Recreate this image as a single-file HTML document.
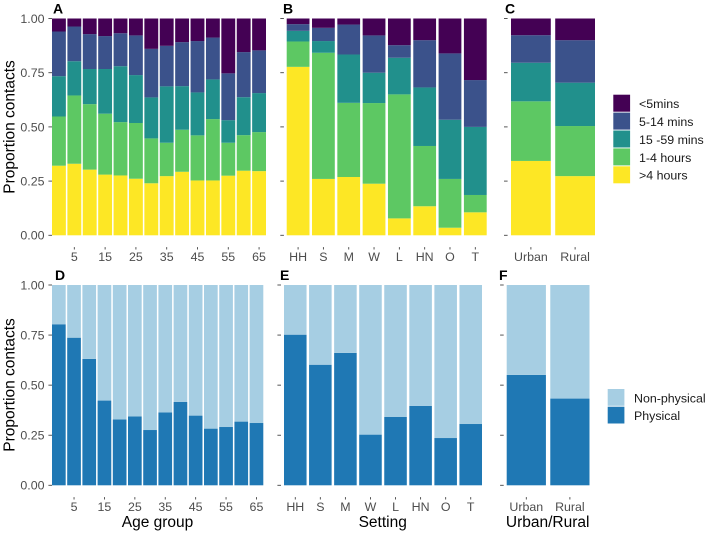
<!DOCTYPE html>
<html lang="en">
<head>
<meta charset="utf-8">
<title>Proportion of contacts by duration and physical contact</title>
<style>
html,body{margin:0;padding:0;background:#fff;width:708px;height:533px;overflow:hidden}
svg{display:block}
text{font-family:"Liberation Sans",sans-serif}
</style>
</head>
<body>
<svg id="chart" xmlns="http://www.w3.org/2000/svg" width="708" height="533" viewBox="0 0 708 533">
<rect x="0" y="0" width="708" height="533" fill="#ffffff"/>
</svg>
<script>
// ---- categories ----
const ageCategories = ['0','5','10','15','20','25','30','35','40','45','50','55','60','65'];
const settingCategories = ['HH','S','M','W','L','HN','O','T'];
const areaCategories = ['Urban','Rural'];

// ---- tick labels ----
const ageTickLabels = ['5','15','25','35','45','55','65'];
const settingTickLabels = ['HH','S','M','W','L','HN','O','T'];
const areaTickLabels = ['Urban','Rural'];
const yTickValues = [0, 0.25, 0.5, 0.75, 1];
const yTickLabels = ['0.00','0.25','0.50','0.75','1.00'];

// ---- legend entries, stacked bottom to top in the bars ----
const durationNames = ['>4 hours','1-4 hours','15 -59 mins','5-14 mins','<5mins'];
const physicalNames = ['Physical','Non-physical'];

// ---- panel A: duration by age group ----
const ageOver4h    = [.321,.33,.303,.28,.276,.261,.24,.273,.293,.253,.253,.275,.298,.296];
const age1to4h     = [.227,.315,.302,.281,.246,.257,.207,.154,.194,.208,.283,.152,.164,.18];
const age15to59m   = [.186,.158,.162,.206,.258,.221,.189,.26,.201,.198,.183,.104,.175,.18];
const age5to14m    = [.206,.16,.161,.152,.152,.183,.224,.187,.203,.237,.193,.216,.208,.197];
const ageUnder5m   = [.06,.037,.072,.081,.068,.078,.14,.126,.109,.104,.088,.253,.155,.147];

// ---- panel B: duration by setting ----
const settingOver4h  = [.777,.26,.269,.238,.078,.134,.035,.106];
const setting1to4h   = [.117,.582,.342,.372,.572,.278,.225,.08];
const setting15to59m = [.049,.054,.223,.14,.169,.27,.273,.314];
const setting5to14m  = [.031,.061,.138,.172,.058,.218,.306,.216];
const settingUnder5m = [.026,.043,.028,.078,.123,.1,.161,.284];

// ---- panel C: duration by urban/rural ----
const areaOver4h  = [.343,.273];
const area1to4h   = [.275,.231];
const area15to59m = [.178,.2];
const area5to14m  = [.127,.196];
const areaUnder5m = [.077,.1];

// ---- panels D, E, F: physical contact share ----
const agePhysical = [.804,.737,.631,.423,.329,.344,.276,.364,.416,.348,.283,.291,.318,.311];
const settingPhysical = [.752,.602,.661,.253,.341,.396,.236,.306];
const areaPhysical = [.551,.433];

const durationColors = ['#FDE725','#5DC863','#21908C','#3B528B','#440154'];
const physicalColors = ['#1F78B4','#A6CEE3'];

const NS = 'http://www.w3.org/2000/svg';
const svg = document.getElementById('chart');
function slug(s){ return String(s).toLowerCase().replace(/[^a-z0-9]+/g,'-').replace(/^-|-$/g,'') || 'item'; }
function make(tag, parent, props){
  const el = document.createElementNS(NS, tag);
  for (const k in props) el.setAttribute(k, props[k]);
  parent.appendChild(el);
  return el;
}
function drawText(parent, str, x, y, size, fill, anchor, name, extra){
  const t = make('text', parent, Object.assign({x:x, y:y, 'font-size':size, fill:fill, 'text-anchor':anchor}, extra||{}));
  t.textContent = str;
  
  
  return t;
}

function drawPanel(cfg){
  const g = make('g', svg, {});
  
  

  const n = cfg.categories.length;
  const pitch = (cfg.x1 - cfg.x0) / (n - 1 + 0.9);
  const barW = pitch * 0.9;
  const xLeft = i => cfg.x0 + i * pitch;
  const xMid = i => xLeft(i) + barW / 2;
  const yPos = v => cfg.yBottom + (cfg.yTop - cfg.yBottom) * v;

  // bars: normalised stack
  cfg.categories.forEach((cat, i) => {
    const total = cfg.series.reduce((sum, s) => sum + s[i], 0) || 1;
    let acc = 0;
    cfg.series.forEach((s, k) => {
      const v0 = acc / total;
      acc += s[i];
      const v1 = acc / total;
      const r = make('rect', g, {x:xLeft(i).toFixed(2), y:yPos(v1).toFixed(2), width:barW.toFixed(2), height:(yPos(v0)-yPos(v1)).toFixed(2), fill:cfg.colors[k]});
      
      
    });
  });

  // y axis
  yTickValues.forEach((v, i) => {
    const y = yPos(v);
    const tick = make('line', g, {x1:cfg.x0 - 3.6 - cfg.tickGap, x2:cfg.x0 - cfg.tickGap, y1:y.toFixed(2), y2:y.toFixed(2), stroke:'#444', 'stroke-width':0.9});
    
    
    if (cfg.showY) {
      drawText(g, yTickLabels[i], 44.5, (y + 4.4).toFixed(2), 12.4, '#4d4d4d', 'end', 'y-tick-label');
    }
  });

  // x axis
  cfg.categories.forEach((cat, i) => {
    if (!cfg.tickLabels.includes(cat)) return;
    const tick = make('line', g, {x1:xMid(i).toFixed(2), x2:xMid(i).toFixed(2), y1:cfg.yBottom + 11.8, y2:cfg.yBottom + 14.2, stroke:'#444', 'stroke-width':0.9});
    
    
    drawText(g, cat, xMid(i).toFixed(2), cfg.yBottom + 25.6, 12.4, '#4d4d4d', 'middle', 'x-tick-label');
  });

  drawText(g, cfg.letter, cfg.labelX, cfg.labelY, 14, '#000', 'start', 'panel-label', {'font-weight':'bold'});
  if (cfg.xTitle) drawText(g, cfg.xTitle, (cfg.xTitleX), 527, 15.5, '#000', 'middle', 'x-axis-title');
}

const topNames = durationNames;
const bottomNames = physicalNames;
const nonPhysical = arr => arr.map(v => 1 - v);

drawPanel({letter:'A', labelX:53, labelY:13.5, x0:52, x1:266, yTop:18.5, yBottom:235.3, tickGap:0, showY:true,
  categories:ageCategories, tickLabels:ageTickLabels, names:topNames, colors:durationColors,
  series:[ageOver4h, age1to4h, age15to59m, age5to14m, ageUnder5m]});
drawPanel({letter:'B', labelX:283, labelY:13.5, x0:286.7, x1:486.7, yTop:18.5, yBottom:235.3, tickGap:2.8, showY:false,
  categories:settingCategories, tickLabels:settingTickLabels, names:topNames, colors:durationColors,
  series:[settingOver4h, setting1to4h, setting15to59m, setting5to14m, settingUnder5m]});
drawPanel({letter:'C', labelX:505, labelY:13.5, x0:511, x1:595, yTop:18.5, yBottom:235.3, tickGap:3.4, showY:false,
  categories:areaCategories, tickLabels:areaTickLabels, names:topNames, colors:durationColors,
  series:[areaOver4h, area1to4h, area15to59m, area5to14m, areaUnder5m]});
drawPanel({letter:'D', labelX:55, labelY:280, x0:52, x1:263.3, yTop:285, yBottom:485.3, tickGap:0, showY:true,
  categories:ageCategories, tickLabels:ageTickLabels, names:bottomNames, colors:physicalColors,
  series:[agePhysical, nonPhysical(agePhysical)], xTitle:'Age group', xTitleX:157.5});
drawPanel({letter:'E', labelX:280, labelY:280, x0:284, x1:482, yTop:285, yBottom:485.3, tickGap:3, showY:false,
  categories:settingCategories, tickLabels:settingTickLabels, names:bottomNames, colors:physicalColors,
  series:[settingPhysical, nonPhysical(settingPhysical)], xTitle:'Setting', xTitleX:382.7});
drawPanel({letter:'F', labelX:499, labelY:280, x0:506.7, x1:589.5, yTop:285, yBottom:485.3, tickGap:3, showY:false,
  categories:areaCategories, tickLabels:areaTickLabels, names:bottomNames, colors:physicalColors,
  series:[areaPhysical, nonPhysical(areaPhysical)], xTitle:'Urban/Rural', xTitleX:547.7});

// y axis titles
const yTitleTop = drawText(svg, 'Proportion contacts', 0, 0, 15.5, '#000', 'middle', 'y-axis-title-top', {transform:'translate(14.5,127) rotate(-90)'});
const yTitleBottom = drawText(svg, 'Proportion contacts', 0, 0, 15.5, '#000', 'middle', 'y-axis-title-bottom', {transform:'translate(14.5,385) rotate(-90)'});

// legends (listed top to bottom, reverse of stacking)
function drawLegend(names, colors, swatchX, firstY, rowH, swatchW, textX, fontSize, legendName){
  const g = make('g', svg, {});
  
  
  const count = names.length;
  for (let i = 0; i < count; i++) {
    const k = count - 1 - i;
    const y = firstY + i * rowH;
    const sw = make('rect', g, {x:swatchX, y:y.toFixed(2), width:swatchW, height:(rowH - 0.9).toFixed(2), fill:colors[k]});
    
    
    drawText(g, names[k], textX, (y + rowH / 2 + 4.4).toFixed(2), fontSize, '#1a1a1a', 'start', 'legend-label-' + slug(names[k]));
  }
}
drawLegend(durationNames, durationColors, 613.3, 94.7, 17.9, 16.8, 639, 12.4, 'duration-legend');
drawLegend(physicalNames, physicalColors, 607.7, 389, 17.7, 16.7, 634, 12.4, 'physical-legend');
</script>
</body>
</html>
